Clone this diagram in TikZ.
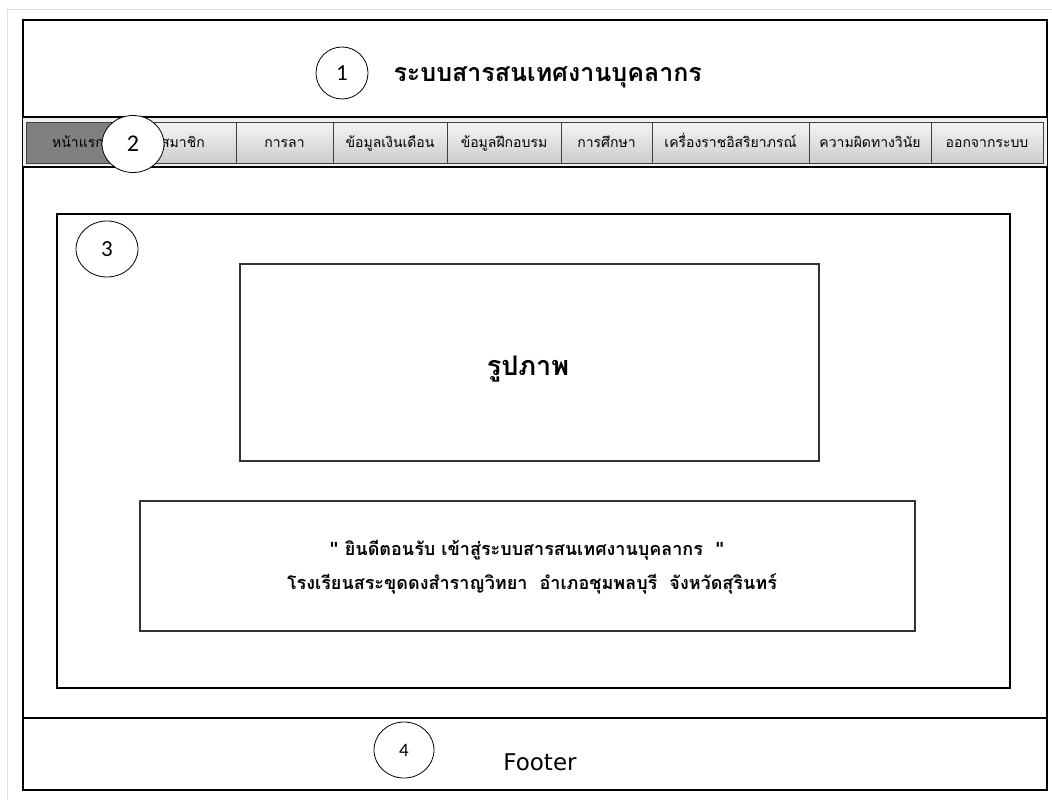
\documentclass[tikz,border=0pt]{standalone}
\usepackage{fontspec}
\usetikzlibrary{shapes.geometric}
\setmainfont[Script=Thai]{Loma}
\newfontfamily\latinfont{DejaVu Sans}
\newfontfamily\digitfont{Carlito}
\begin{document}
\begin{tikzpicture}[x=1pt,y=-1pt,
  frame/.style={draw=black,line width=2pt},
  btn/.style={draw=black!75,line width=0.8pt,minimum height=41pt,inner sep=0pt,
     text height=13pt,text depth=4pt,
     top color=white!96!black,bottom color=white!80!black,font=\fontsize{14}{16}\selectfont},
  btnact/.style={btn,top color=black!50,bottom color=black!50,fill=black!50},
  num/.style={draw=black,fill=white,ellipse,line width=0.8pt,inner sep=0pt,font=\digitfont\fontsize{23}{25}\selectfont},
  ttl/.style={font=\bfseries\fontsize{25}{28}\selectfont},
  msg/.style={font=\bfseries\fontsize{18}{22}\selectfont,align=center}]
\useasboundingbox (0,0) rectangle (1052,800);
\fill[white] (0,0) rectangle (1052,800);
\draw[black!12,line width=1pt] (7,800) -- (7,10) -- (1052,10);
% outer frame
\draw[frame] (23,20) rectangle (1047,790);
% menu bar
\fill[black!6] (23,117) rectangle (1047,167);
\draw[line width=2.5pt] (23,117) -- (1047,117);
\draw[line width=2.5pt] (23,167) -- (1047,167);
\node[btnact,minimum width=104pt] (m1) at (78,142.5) {หน้าแรก};
\node[btn,minimum width=106pt] (m2) at (183,142.5) {สมาชิก};
\node[btn,minimum width=97pt] (m3) at (284.5,142.5) {การลา};
\node[btn,minimum width=114pt] (m4) at (390,142.5) {ข้อมูลเงินเดือน};
\node[btn,minimum width=114pt] (m5) at (504,142.5) {ข้อมูลฝึกอบรม};
\node[btn,minimum width=91pt] (m6) at (606.5,142.5) {การศึกษา};
\node[btn,minimum width=157pt] (m7) at (730.5,142.5) {เครื่องราชอิสริยาภรณ์};
\node[btn,minimum width=122pt] (m8) at (870,142.5) {ความผิดทางวินัย};
\node[btn,minimum width=112pt] (m9) at (987,142.5) {ออกจากระบบ};
% header
\node[num,minimum width=52pt,minimum height=52pt] (c1) at (342,73) {1};
\node[ttl,anchor=west] (title) at (390,77) {ระบบสารสนเทศงานบุคลากร};
\node[num,minimum width=62pt,minimum height=57pt,font=\digitfont\fontsize{24}{26}\selectfont] (c2) at (133,144) {2};
% content
\draw[line width=2.5pt] (57,214) rectangle (1010,688);
\node[num,minimum width=62pt,minimum height=56pt] (c3) at (107,249) {3};
\draw[black!80,line width=1.5pt] (240,264) rectangle (819,461);
\node[font=\bfseries\fontsize{27}{30}\selectfont] (pic) at (528,369) {รูปภาพ};
\draw[black!80,line width=1.5pt] (140,501) rectangle (915,631);
\node[msg] (m1l) at (527,550) {{\latinfont"} ยินดีตอนรับ~เข้าสู่ระบบสารสนเทศงานบุคลากร~~{\latinfont"}};
\node[msg] (m2l) at (532,584) {โรงเรียนสระขุดดงสำราญวิทยา~~อำเภอชุมพลบุรี~~จังหวัดสุรินทร์};
% footer
\draw[line width=2pt] (23,718) -- (1047,718);
\node[num,minimum width=60pt,minimum height=56pt,font=\digitfont\fontsize{19}{21}\selectfont] (c4) at (404,750) {4};
\node[font=\latinfont\fontsize{23}{26}\selectfont] (foot) at (540,762) {Footer};
\end{tikzpicture}
\end{document}
